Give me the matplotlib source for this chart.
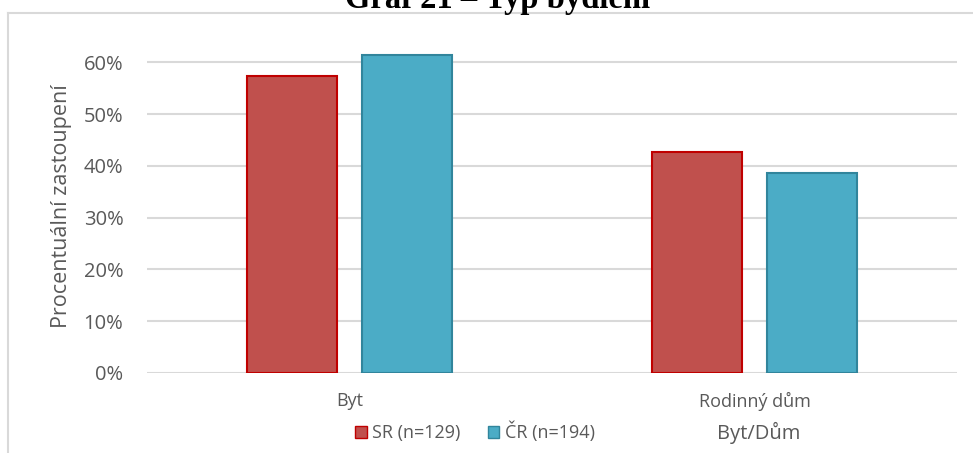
import numpy as np
import matplotlib.pyplot as plt
from matplotlib.lines import Line2D
from matplotlib.patches import Patch

# data
categories = ['Byt', 'Rodinný dům']
sr_values = [0.574, 0.426]
cr_values = [0.613, 0.387]
series_labels = ['SR (n=129)', 'ČR (n=194)']

plt.rcParams['font.family'] = ['Open Sans', 'DejaVu Sans']

fig = plt.figure(figsize=(9.73, 4.53), dpi=100)
ax = fig.add_axes([147 / 973, 1 - 373 / 453, 810 / 973, 360 / 453])

x = np.arange(len(categories))
w = 0.222
off = 0.142
ax.bar(x - off, sr_values, w, color='#C0504D', edgecolor='#C00000', linewidth=1.5, zorder=3)
ax.bar(x + off, cr_values, w, color='#4BACC6', edgecolor='#31859C', linewidth=1.5, zorder=3)

ax.set_xlim(-0.5, 1.5)
ax.set_ylim(0, 0.695)
ax.set_yticks(np.arange(0, 0.61, 0.1))
ax.set_yticklabels([f'{int(round(v * 100))}%' for v in np.arange(0, 0.61, 0.1)])
ax.yaxis.grid(True, color='#D9D9D9', linewidth=1.5, zorder=0)
ax.set_xticks(x)
ax.set_xticklabels(categories)
ax.tick_params(axis='y', length=0, labelsize=14.5, colors='#595959', pad=17)
ax.tick_params(axis='x', length=0, labelsize=13, colors='#595959', pad=14)
for s in ['top', 'right', 'left', 'bottom']:
    ax.spines[s].set_visible(False)

ax.set_ylabel('Procentuální zastoupení', fontsize=15.5, color='#595959')
ax.yaxis.set_label_coords(-0.093, 0.464)

# legend
handles = [Patch(facecolor='#C0504D', edgecolor='#C00000'),
           Patch(facecolor='#4BACC6', edgecolor='#31859C')]
fig.legend(handles, series_labels, loc='center', bbox_to_anchor=(475 / 973, 1 - 432 / 453),
           ncol=2, frameon=False, fontsize=13, handlelength=0.65, handleheight=0.65,
           handletextpad=0.3, columnspacing=1.5, labelcolor='#595959')

fig.text(759 / 973, 1 - 433 / 453, 'Byt/Dům', ha='center', va='center', fontsize=14.5, color='#595959')

# title, cut off at the top
fig.text(498 / 973, 1 - 8 / 453, 'Graf 21 – Typ bydlení', ha='center', va='baseline',
         fontsize=23.5, fontweight='bold', family='Liberation Serif')

# chart frame
fig.add_artist(Line2D([8 / 973, 1], [1 - 13 / 453, 1 - 13 / 453], color='#D9D9D9', linewidth=1.5))
fig.add_artist(Line2D([8 / 973, 8 / 973], [0, 1 - 13 / 453], color='#D9D9D9', linewidth=1.5))

fig.savefig('out.png', dpi=100)
